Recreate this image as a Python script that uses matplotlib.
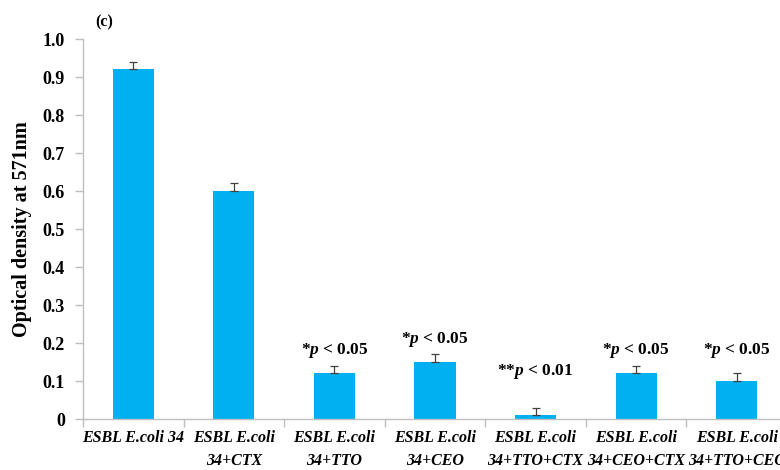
import matplotlib
matplotlib.use("Agg")
import matplotlib.pyplot as plt
import numpy as np

categories = ["ESBL E.coli 34", "ESBL E.coli\n34+CTX", "ESBL E.coli\n34+TTO", "ESBL E.coli\n34+CEO",
              "ESBL E.coli\n34+TTO+CTX", "ESBL E.coli\n34+CEO+CTX", "ESBL E.coli\n34+TTO+CEO"]
values = [0.92, 0.60, 0.12, 0.15, 0.01, 0.12, 0.10]
errors = [0.02, 0.02, 0.02, 0.02, 0.02, 0.02, 0.02]
annotations = ["", "", "*p < 0.05", "*p < 0.05", "**p < 0.01", "*p < 0.05", "*p < 0.05"]
annot_y = [None, None, 0.18, 0.21, 0.124, 0.18, 0.18]
yticks = [0, 0.1, 0.2, 0.3, 0.4, 0.5, 0.6, 0.7, 0.8, 0.9, 1.0]
ytick_labels = ["0", "0.1", "0.2", "0.3", "0.4", "0.5", "0.6", "0.7", "0.8", "0.9", "1.0"]

plt.rcParams['font.family'] = ['Liberation Serif', 'DejaVu Serif']
plt.rcParams['mathtext.fontset'] = 'custom'
plt.rcParams['mathtext.it'] = 'Liberation Serif:italic:bold'
plt.rcParams['mathtext.rm'] = 'Liberation Serif:bold'
plt.rcParams['mathtext.bf'] = 'Liberation Serif:bold'

fig = plt.figure(figsize=(7.8, 4.7), dpi=100)
ax = fig.add_axes([83/780, 51/470, 704/780, 380/470])
x = np.arange(len(categories))
ax.bar(x, values, width=0.41, color="#00B0F0", zorder=2)
ax.errorbar(x, values, yerr=[np.zeros(len(errors)), errors], fmt="none",
            ecolor="#404040", elinewidth=0.9, capsize=3, capthick=0.9, zorder=3)

for xi, txt, yy in zip(x, annotations, annot_y):
    if txt:
        stars, rest = txt.split("p", 1)
        label = stars + "$p$" + rest
        ax.text(xi, yy, label, ha="center", va="center", fontsize=12.5, fontweight="bold")

ax.set_xlim(-0.5, len(categories) - 0.5)
ax.set_ylim(0, 1.0)
ax.set_yticks(yticks)
ax.set_yticklabels(ytick_labels, fontsize=13, fontweight="bold")
ax.set_xticks(x)
ax.set_xticklabels(categories, fontsize=11.5, fontweight="bold", fontstyle="italic", linespacing=1.6)
ax.set_xticks(np.arange(-0.5, len(categories), 1.0), minor=True)
ax.tick_params(axis="x", which="major", length=0, pad=8)
ax.tick_params(axis="x", which="minor", length=6, color="#BFBFBF", width=1)
ax.tick_params(axis="y", length=6, color="#BFBFBF", width=1, pad=7)
for s in ["top", "right"]:
    ax.spines[s].set_visible(False)
for s in ["left", "bottom"]:
    ax.spines[s].set_color("#BFBFBF")
    ax.spines[s].set_linewidth(1)
ax.set_ylabel("Optical density at 571nm", fontsize=14.5, fontweight="bold", labelpad=8)
fig.text(95/780, 1 - 22/470, "(c)", fontsize=11.5, fontweight="bold", ha="left", va="center")

fig.savefig("out.png", dpi=100)
